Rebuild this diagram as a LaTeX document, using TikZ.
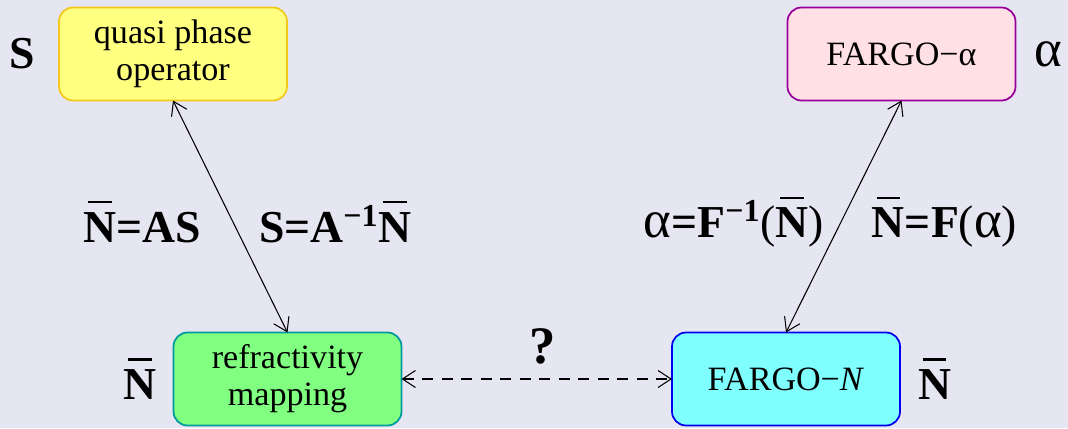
\documentclass[tikz,border=0pt]{standalone}
\usepackage{fontspec}
\setmainfont{Liberation Serif}
\usepackage{tikz}
\usetikzlibrary{positioning, arrows.meta}
\usepackage{xcolor}
\definecolor{bgcol}{HTML}{E6E6F2}
\definecolor{qpofill}{HTML}{FFFF80}
\definecolor{qpoline}{HTML}{F2C81A}
\definecolor{alphafill}{HTML}{FFE0E4}
\definecolor{alphaline}{HTML}{990099}
\definecolor{refrfill}{HTML}{80FF80}
\definecolor{refrline}{HTML}{00999F}
\definecolor{nfill}{HTML}{80FFFF}
\definecolor{nline}{HTML}{0000EE}
% N with a short bar set apart above it
\newcommand{\Nbar}{\setbox0\hbox{N}\vbox{\offinterlineskip
      \hbox to\wd0{\hss\rule{0.52em}{0.045em}\hss}\kern0.2em\box0}}
% larger upright alpha
\newcommand{\alp}{{\mdseries\fontsize{30}{30}\selectfont α}}

\begin{document}
\begin{tikzpicture}[
                  box/.style={draw, rounded corners=0.28cm, line width=1pt, inner sep=2pt,
                              font=\fontsize{19.4}{21}\selectfont,
                              minimum width=4.56cm, minimum height=1.86cm, align=center},
                  qpo/.style={box, fill=qpofill, draw=qpoline},
                  fal/.style={box, fill=alphafill, draw=alphaline},
                  refr/.style={box, fill=refrfill, draw=refrline},
                  fan/.style={box, fill=nfill, draw=nline},
                  lbl/.style={font=\fontsize{26}{28}\selectfont\bfseries, inner sep=0pt},
                  arr/.style={<->, >={Straight Barb[length=2.6mm, width=3.4mm]}, line width=0.6pt},
                  every node/.append style={outer sep=0pt},
            ]
            \fill[bgcol] (0,0) rectangle (21.36,8.56);
            \useasboundingbox (0,0) rectangle (21.36,8.56);

            % Row 1: operator and FARGO-alpha
            \node[qpo] (quasi) at (3.46,7.48) {quasi phase\\operator};
            \node[fal] (fargoa) at (18.03,7.48) {FARGO−α};

            % Row 2: refractivity and FARGO-N
            \node[refr] (refr) at (5.75,0.98) {refractivity\\mapping};
            \node[fan] (fargon) at (15.72,0.98) {FARGO−\textit{N}};

            % variable names beside the boxes
            \node[lbl, left=0.48cm of quasi] (svar) {S};
            \node[lbl, right=0.38cm of fargoa] (avar) {\alp};
            \node[lbl, left=0.34cm of refr] (nvarl) {\Nbar};
            \node[lbl, right=0.36cm of fargon] (nvarr) {\Nbar};

            % Arrows
            \draw[arr] (quasi.south) -- (refr.north)
                  node[lbl, pos=0.524, left=0.64cm] (asl) {\Nbar=AS}
                  node[lbl, pos=0.524, right=0.52cm] (asr) {S=A\textsuperscript{−1}\Nbar};
            \draw[arr] (fargoa.south) -- (fargon.north)
                  node[lbl, pos=0.524, left=0.34cm] (fl) {\alp=F\textsuperscript{−1}{\mdseries(}\Nbar{\mdseries)}}
                  node[lbl, pos=0.524, right=0.62cm] (fr) {\Nbar=F{\mdseries(}\alp{\mdseries)}};
            % unknown link between the two N models
            \draw[arr, dash pattern=on 0.22cm off 0.17cm] (refr.east) -- (fargon.west)
                  node[lbl, font=\fontsize{30}{32}\selectfont\bfseries, midway, above=0.3cm, xshift=0.12cm] (qm) {?};

      \end{tikzpicture}
\end{document}
